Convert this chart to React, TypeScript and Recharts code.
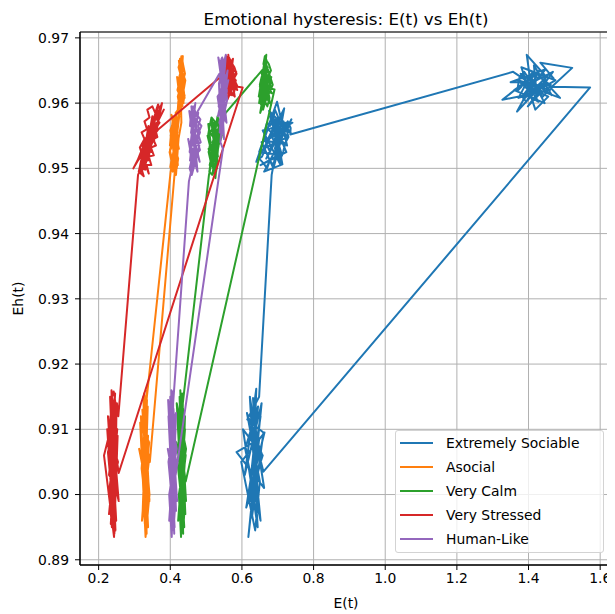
import React from "react";
import {
  LineChart,
  Line,
  XAxis,
  YAxis,
  CartesianGrid,
  Legend,
  ReferenceArea,
} from "recharts";

// E(t) / Eh(t) ticks
const E_TICKS = [0.2, 0.4, 0.6, 0.8, 1.0, 1.2, 1.4, 1.6];
const EH_TICKS = [0.89, 0.9, 0.91, 0.92, 0.93, 0.94, 0.95, 0.96, 0.97];
const E_DOMAIN: [number, number] = [0.148, 1.633];
const EH_DOMAIN: [number, number] = [0.8892, 0.9709];

type Pt = [number, number]; // [E, Eh]

// Extremely Sociable: low -> mid -> high -> back to low
const sociableLow: Pt[] = [
  [0.632, 0.904], [0.652, 0.912], [0.612, 0.898], [0.658, 0.906], [0.603, 0.91],
  [0.644, 0.895], [0.622, 0.915], [0.662, 0.901], [0.585, 0.9065], [0.648, 0.9085],
  [0.618, 0.8935], [0.655, 0.914], [0.608, 0.903], [0.64, 0.9162], [0.628, 0.8965],
  [0.66, 0.9095], [0.615, 0.9115], [0.648, 0.915],
];
const sociableMid: Pt[] = [
  [0.683, 0.949], [0.705, 0.9555], [0.668, 0.9515], [0.722, 0.957], [0.688, 0.95],
  [0.655, 0.954], [0.73, 0.956], [0.678, 0.958], [0.712, 0.952], [0.648, 0.9525],
  [0.698, 0.9602], [0.726, 0.9535], [0.672, 0.956], [0.64, 0.951], [0.715, 0.9585],
  [0.692, 0.953], [0.738, 0.9575], [0.662, 0.9495], [0.713, 0.9506], [0.7, 0.9545],
  [0.733, 0.9565], [0.68, 0.955], [0.741, 0.957], [0.658, 0.9558], [0.708, 0.9505],
  [0.686, 0.9575], [0.728, 0.9548], [0.665, 0.9532], [0.718, 0.9592], [0.694, 0.9518],
  [0.652, 0.9505], [0.724, 0.9525], [0.676, 0.9588], [0.736, 0.9555], [0.69, 0.9562],
  [0.71, 0.9538], [0.67, 0.9542], [0.702, 0.9578],
  [0.7, 0.955], [0.69, 0.954], [0.682, 0.9552], [0.672, 0.9545], [0.664, 0.9528],
  [0.656, 0.9518], [0.648, 0.9515], [0.66, 0.9508], [0.67, 0.95], [0.678, 0.9512],
  [0.688, 0.9505], [0.696, 0.952], [0.706, 0.9512], [0.715, 0.9525], [0.722, 0.954],
  [0.73, 0.9548], [0.724, 0.956], [0.716, 0.9572], [0.708, 0.9565], [0.7, 0.958],
  [0.692, 0.959], [0.686, 0.9572], [0.678, 0.9565], [0.67, 0.957], [0.662, 0.9555],
  [0.668, 0.9538], [0.676, 0.9528], [0.684, 0.9535], [0.694, 0.9548], [0.704, 0.954],
  [0.712, 0.955], [0.72, 0.9565], [0.728, 0.9572], [0.736, 0.9562], [0.735, 0.9552],
];
const sociableHigh: Pt[] = [
  [1.357, 0.9648], [1.42, 0.9625], [1.385, 0.9605], [1.45, 0.964], [1.395, 0.9674],
  [1.41, 0.9615], [1.37, 0.9635], [1.46, 0.962], [1.327, 0.9605], [1.43, 0.965],
  [1.368, 0.9587], [1.44, 0.963], [1.4, 0.9612], [1.475, 0.9635], [1.38, 0.9655],
  [1.419, 0.959], [1.455, 0.961], [1.39, 0.9628], [1.488, 0.9608], [1.425, 0.9645],
  [1.36, 0.962], [1.445, 0.96], [1.405, 0.9642], [1.372, 0.9608], [1.438, 0.9618],
  [1.398, 0.9595], [1.468, 0.9648], [1.412, 0.9632], [1.35, 0.9632], [1.448, 0.9652],
  [1.392, 0.9615], [1.428, 0.9602], [1.378, 0.9645], [1.465, 0.9612], [1.415, 0.9658],
  [1.42, 0.963], [1.405, 0.9622], [1.392, 0.9635], [1.38, 0.9625], [1.368, 0.9618],
  [1.375, 0.964], [1.388, 0.9648], [1.4, 0.9638], [1.412, 0.9648], [1.425, 0.9638],
  [1.438, 0.9645], [1.45, 0.9632], [1.462, 0.9628], [1.452, 0.9618], [1.44, 0.961],
  [1.428, 0.9615], [1.416, 0.9605], [1.404, 0.9612], [1.394, 0.9602], [1.382, 0.961],
  [1.396, 0.962], [1.41, 0.963], [1.424, 0.9622], [1.436, 0.9632], [1.448, 0.964],
  [1.458, 0.9645], [1.47, 0.9638],
  [1.433, 0.9662], [1.522, 0.9654], [1.465, 0.9625], [1.572, 0.9624],
];
const sociableBack: Pt[] = [
  [0.66, 0.9035], [0.626, 0.911], [0.652, 0.896], [0.609, 0.907], [0.645, 0.9135],
  [0.62, 0.9], [0.663, 0.9095], [0.598, 0.905], [0.637, 0.8945], [0.65, 0.902],
  [0.614, 0.9125], [0.657, 0.906], [0.624, 0.899], [0.642, 0.908], [0.631, 0.9148],
  [0.646, 0.8975],
];

// Asocial
const asocialLow: Pt[] = [
  [0.328, 0.901], [0.338, 0.909], [0.321, 0.896], [0.34, 0.905], [0.318, 0.912],
  [0.334, 0.894], [0.325, 0.915], [0.342, 0.899], [0.313, 0.907], [0.331, 0.903],
  [0.337, 0.9135], [0.323, 0.8975], [0.335, 0.916], [0.327, 0.9085], [0.339, 0.902],
  [0.329, 0.912],
];
const asocialMid: Pt[] = [
  [0.401, 0.9495], [0.418, 0.954], [0.404, 0.951], [0.422, 0.957], [0.408, 0.95],
  [0.398, 0.9525], [0.42, 0.9555], [0.405, 0.958], [0.424, 0.953], [0.402, 0.956],
  [0.416, 0.949], [0.423, 0.9545], [0.407, 0.9575], [0.399, 0.9535], [0.419, 0.9565],
  [0.411, 0.9515], [0.425, 0.958], [0.403, 0.9548], [0.414, 0.9572], [0.421, 0.9505],
  [0.406, 0.9538], [0.417, 0.9585], [0.4, 0.9558], [0.413, 0.9528],
  [0.412, 0.955], [0.405, 0.9562], [0.41, 0.9575], [0.403, 0.9582], [0.408, 0.9568],
  [0.401, 0.955], [0.406, 0.954], [0.399, 0.9528], [0.404, 0.9515], [0.4, 0.9502],
  [0.407, 0.9495], [0.412, 0.9508], [0.418, 0.95], [0.422, 0.9515], [0.416, 0.9525],
  [0.421, 0.9538], [0.414, 0.9545], [0.419, 0.9558], [0.413, 0.9565], [0.42, 0.9575],
  [0.415, 0.9585], [0.422, 0.959], [0.424, 0.9578],
];
const asocialHigh: Pt[] = [
  [0.428, 0.96], [0.419, 0.964], [0.436, 0.9615], [0.424, 0.9665], [0.439, 0.9625],
  [0.421, 0.959], [0.431, 0.9672], [0.441, 0.9645], [0.423, 0.961], [0.435, 0.9655],
  [0.426, 0.9585], [0.442, 0.9635], [0.425, 0.966], [0.437, 0.96], [0.42, 0.962],
  [0.433, 0.965], [0.427, 0.9668], [0.44, 0.9608], [0.422, 0.9638], [0.434, 0.9595],
  [0.43, 0.963], [0.425, 0.964], [0.431, 0.9652], [0.426, 0.966], [0.433, 0.9668],
  [0.437, 0.9655], [0.432, 0.9642], [0.438, 0.9632], [0.434, 0.962], [0.44, 0.9612],
  [0.436, 0.96], [0.43, 0.9608], [0.425, 0.9598], [0.421, 0.961], [0.427, 0.9622],
  [0.422, 0.9632], [0.428, 0.9645], [0.423, 0.9655], [0.429, 0.9665], [0.435, 0.9672],
  [0.429, 0.962], [0.431, 0.957], [0.418, 0.953],
];
const asocialBack: Pt[] = [
  [0.343, 0.905], [0.326, 0.91], [0.338, 0.895], [0.32, 0.904], [0.335, 0.9145],
  [0.324, 0.898], [0.341, 0.908], [0.316, 0.911], [0.331, 0.8935], [0.342, 0.9],
  [0.322, 0.913], [0.336, 0.9065], [0.328, 0.8965], [0.333, 0.9105],
  [0.329, 0.908], [0.324, 0.911], [0.33, 0.9135], [0.327, 0.9155], [0.333, 0.914],
  [0.336, 0.9115], [0.332, 0.909], [0.337, 0.906], [0.333, 0.903], [0.338, 0.9],
  [0.334, 0.8975], [0.329, 0.8955], [0.326, 0.8985], [0.33, 0.902],
];

// Very Calm
const calmLow: Pt[] = [
  [0.43, 0.902], [0.441, 0.91], [0.422, 0.896], [0.443, 0.906], [0.419, 0.913],
  [0.436, 0.894], [0.426, 0.915], [0.444, 0.899], [0.417, 0.908], [0.434, 0.9035],
  [0.428, 0.916], [0.442, 0.897], [0.423, 0.911], [0.439, 0.9055], [0.431, 0.8985],
  [0.435, 0.914],
];
const calmMid: Pt[] = [
  [0.508, 0.949], [0.528, 0.954], [0.51, 0.9505], [0.536, 0.9565], [0.515, 0.9525],
  [0.504, 0.955], [0.53, 0.95], [0.514, 0.9575], [0.54, 0.9545], [0.507, 0.953],
  [0.526, 0.9485], [0.538, 0.956], [0.512, 0.9515], [0.532, 0.958], [0.544, 0.955],
  [0.518, 0.954], [0.541, 0.957], [0.506, 0.9568], [0.522, 0.9498], [0.535, 0.9535],
  [0.511, 0.9555], [0.529, 0.9572], [0.517, 0.9508], [0.543, 0.9548], [0.52, 0.9562],
  [0.533, 0.9518],
  [0.525, 0.955], [0.518, 0.956], [0.524, 0.9572], [0.515, 0.9578], [0.51, 0.9565],
  [0.506, 0.9552], [0.512, 0.954], [0.507, 0.9525], [0.513, 0.951], [0.509, 0.9495],
  [0.517, 0.949], [0.522, 0.9505], [0.528, 0.9495], [0.532, 0.951], [0.527, 0.9525],
  [0.534, 0.954], [0.529, 0.9552], [0.537, 0.956], [0.531, 0.9568], [0.539, 0.9575],
  [0.544, 0.9565], [0.54, 0.9552], [0.547, 0.958],
];
const calmHigh: Pt[] = [
  [0.665, 0.9656], [0.652, 0.962], [0.676, 0.9645], [0.648, 0.96], [0.668, 0.9674],
  [0.658, 0.961], [0.68, 0.963], [0.651, 0.9585], [0.672, 0.9655], [0.656, 0.964],
  [0.684, 0.9615], [0.65, 0.9625], [0.678, 0.96], [0.662, 0.966], [0.647, 0.961],
  [0.682, 0.964], [0.66, 0.9595], [0.67, 0.9632], [0.654, 0.9648], [0.675, 0.9605],
  [0.663, 0.9668], [0.686, 0.9628], [0.657, 0.9592],
  [0.668, 0.964], [0.661, 0.965], [0.655, 0.964], [0.65, 0.9628], [0.656, 0.9615],
  [0.652, 0.96], [0.659, 0.959], [0.665, 0.9602], [0.671, 0.9595], [0.677, 0.9608],
  [0.672, 0.962], [0.679, 0.963], [0.674, 0.9642], [0.681, 0.965], [0.675, 0.966],
  [0.669, 0.9665], [0.664, 0.9672], [0.66, 0.966], [0.666, 0.965], [0.673, 0.9635],
  [0.683, 0.9622], [0.691, 0.9621],
];
const calmBack: Pt[] = [
  [0.443, 0.902], [0.425, 0.909], [0.439, 0.895], [0.42, 0.905], [0.441, 0.912],
  [0.43, 0.8935], [0.424, 0.9], [0.444, 0.907], [0.418, 0.914], [0.435, 0.898],
  [0.438, 0.9105], [0.426, 0.903], [0.433, 0.9155], [0.429, 0.8965],
  [0.432, 0.908], [0.427, 0.911], [0.433, 0.9135], [0.429, 0.915], [0.436, 0.913],
  [0.439, 0.91], [0.435, 0.9075], [0.44, 0.9045], [0.436, 0.9015], [0.441, 0.8985],
  [0.437, 0.8955], [0.432, 0.8945], [0.429, 0.8975], [0.433, 0.901],
];

// Very Stressed
const stressedLow: Pt[] = [
  [0.238, 0.902], [0.252, 0.91], [0.229, 0.897], [0.25, 0.905], [0.226, 0.912],
  [0.247, 0.8945], [0.232, 0.915], [0.256, 0.899], [0.23, 0.9055], [0.249, 0.9135],
  [0.215, 0.906], [0.243, 0.8935], [0.253, 0.909], [0.228, 0.9], [0.246, 0.9075],
  [0.234, 0.8955], [0.251, 0.914], [0.255, 0.912],
];
const stressedMid: Pt[] = [
  [0.31, 0.949], [0.35, 0.954], [0.32, 0.9505], [0.349, 0.9575], [0.341, 0.952],
  [0.341, 0.9555], [0.319, 0.9495], [0.339, 0.9565], [0.339, 0.953], [0.362, 0.9585],
  [0.307, 0.951], [0.358, 0.9548], [0.377, 0.96], [0.32, 0.9525], [0.361, 0.956],
  [0.297, 0.95], [0.362, 0.957], [0.332, 0.9535], [0.382, 0.959], [0.313, 0.9515],
  [0.349, 0.9552], [0.35, 0.958], [0.323, 0.9498], [0.33, 0.9545], [0.364, 0.9568],
  [0.325, 0.9528], [0.365, 0.9595], [0.332, 0.9508], [0.321, 0.9538], [0.354, 0.9562],
  [0.334, 0.9518], [0.355, 0.9578], [0.355, 0.9542],
  [0.345, 0.955], [0.352, 0.9565], [0.34, 0.954], [0.347, 0.9525], [0.333, 0.953],
  [0.338, 0.9512], [0.325, 0.9515], [0.33, 0.9498], [0.318, 0.9502], [0.326, 0.9488],
  [0.312, 0.9495], [0.322, 0.952], [0.315, 0.9532], [0.328, 0.9545], [0.32, 0.9555],
  [0.335, 0.956], [0.328, 0.9572], [0.342, 0.9578], [0.336, 0.959], [0.35, 0.9595],
  [0.358, 0.9585], [0.366, 0.9598], [0.372, 0.9588], [0.362, 0.9575], [0.37, 0.957],
  [0.358, 0.956], [0.364, 0.9548], [0.352, 0.9545], [0.36, 0.9535], [0.346, 0.9532],
  [0.354, 0.952], [0.34, 0.9518], [0.347, 0.9505], [0.334, 0.9505], [0.34, 0.9492],
  [0.328, 0.951], [0.336, 0.9525], [0.344, 0.954], [0.356, 0.9552], [0.367, 0.956],
];
const stressedHigh: Pt[] = [
  [0.54, 0.964], [0.565, 0.9662], [0.551, 0.9622], [0.578, 0.9655], [0.556, 0.9672],
  [0.57, 0.9612], [0.546, 0.965], [0.583, 0.9635], [0.56, 0.9606], [0.575, 0.9668],
  [0.549, 0.9642], [0.587, 0.962], [0.566, 0.9652], [0.553, 0.9628], [0.58, 0.961],
  [0.562, 0.9674], [0.574, 0.9625], [0.544, 0.9658], [0.584, 0.9648], [0.558, 0.9616],
  [0.571, 0.966], [0.552, 0.9635], [0.577, 0.9642], [0.563, 0.9612], [0.548, 0.9665],
  [0.581, 0.963], [0.568, 0.9645],
  [0.572, 0.964], [0.565, 0.965], [0.558, 0.964], [0.552, 0.9652], [0.546, 0.9645],
  [0.55, 0.963], [0.557, 0.962], [0.563, 0.9632], [0.569, 0.962], [0.575, 0.9612],
  [0.581, 0.9622], [0.578, 0.9638], [0.585, 0.9645], [0.579, 0.9655], [0.571, 0.9662],
  [0.564, 0.967], [0.559, 0.966], [0.553, 0.9668], [0.561, 0.965], [0.567, 0.964],
  [0.574, 0.965], [0.582, 0.9632], [0.588, 0.9625], [0.602, 0.9624],
];
const stressedBack: Pt[] = [
  [0.256, 0.9033], [0.233, 0.912], [0.249, 0.896], [0.227, 0.908], [0.246, 0.9155],
  [0.231, 0.899], [0.254, 0.905], [0.224, 0.91], [0.244, 0.894], [0.25, 0.9135],
  [0.229, 0.903], [0.252, 0.901], [0.236, 0.916], [0.241, 0.8975], [0.226, 0.9065],
  [0.248, 0.911], [0.235, 0.9045], [0.243, 0.9095],
  [0.238, 0.907], [0.232, 0.91], [0.24, 0.9125], [0.234, 0.9145], [0.242, 0.9158],
  [0.247, 0.914], [0.244, 0.911], [0.249, 0.9085], [0.245, 0.906], [0.25, 0.903],
  [0.246, 0.9], [0.241, 0.897], [0.237, 0.895], [0.233, 0.898], [0.236, 0.9015],
];

// Human-Like
const humanLow: Pt[] = [
  [0.405, 0.902], [0.415, 0.91], [0.397, 0.896], [0.417, 0.905], [0.395, 0.912],
  [0.411, 0.894], [0.4, 0.915], [0.419, 0.899], [0.393, 0.907], [0.409, 0.9035],
  [0.403, 0.916], [0.416, 0.8975], [0.398, 0.911], [0.413, 0.9055], [0.406, 0.8985],
  [0.408, 0.914],
];
const humanMid: Pt[] = [
  [0.452, 0.948], [0.472, 0.953], [0.456, 0.95], [0.48, 0.956], [0.46, 0.9515],
  [0.45, 0.9545], [0.476, 0.9495], [0.462, 0.958], [0.485, 0.954], [0.454, 0.9525],
  [0.47, 0.96], [0.458, 0.9555], [0.482, 0.951], [0.457, 0.957], [0.478, 0.9585],
  [0.464, 0.9535], [0.487, 0.9565], [0.453, 0.9588], [0.474, 0.9505], [0.461, 0.9568],
  [0.483, 0.9528], [0.455, 0.9512], [0.468, 0.9575], [0.479, 0.9548], [0.459, 0.9595],
  [0.466, 0.955], [0.46, 0.954], [0.455, 0.9528], [0.459, 0.9512], [0.454, 0.95],
  [0.46, 0.949], [0.466, 0.9502], [0.471, 0.9515], [0.477, 0.9522], [0.481, 0.9535],
  [0.476, 0.9545], [0.483, 0.9555], [0.478, 0.9565], [0.484, 0.9575], [0.477, 0.958],
  [0.471, 0.957], [0.465, 0.9562], [0.46, 0.9575], [0.455, 0.9565], [0.458, 0.9585],
  [0.464, 0.9595], [0.469, 0.9588], [0.471, 0.9582],
];
const humanHigh: Pt[] = [
  [0.537, 0.9645], [0.552, 0.96], [0.534, 0.967], [0.558, 0.962], [0.533, 0.958],
  [0.56, 0.965], [0.541, 0.956], [0.536, 0.963], [0.555, 0.9674], [0.544, 0.959],
  [0.562, 0.9635], [0.532, 0.961], [0.55, 0.9545], [0.54, 0.9655], [0.557, 0.957],
  [0.535, 0.9595], [0.553, 0.9662], [0.546, 0.9615], [0.538, 0.9555], [0.559, 0.9605],
  [0.543, 0.9668], [0.551, 0.9585],
  [0.545, 0.9625], [0.539, 0.9635], [0.544, 0.9648], [0.538, 0.966], [0.545, 0.967],
  [0.551, 0.966], [0.548, 0.9648], [0.555, 0.964], [0.551, 0.9628], [0.558, 0.9618],
  [0.553, 0.9605], [0.547, 0.9595], [0.542, 0.9582], [0.537, 0.957], [0.543, 0.9562],
  [0.549, 0.9572], [0.554, 0.9585], [0.549, 0.9598], [0.54, 0.954], [0.547, 0.953],
];
const humanBack: Pt[] = [
  [0.415, 0.903], [0.399, 0.909], [0.412, 0.895], [0.395, 0.905], [0.416, 0.9125],
  [0.404, 0.8935], [0.397, 0.9], [0.418, 0.907], [0.394, 0.9145], [0.409, 0.898],
  [0.413, 0.911], [0.401, 0.904], [0.407, 0.9158], [0.402, 0.8965],
  [0.406, 0.908], [0.401, 0.911], [0.407, 0.9135], [0.403, 0.915], [0.409, 0.913],
  [0.412, 0.91], [0.408, 0.9075], [0.413, 0.9045], [0.409, 0.9015], [0.414, 0.8985],
  [0.41, 0.8955], [0.405, 0.8945], [0.402, 0.8975], [0.406, 0.901],
];

const SERIES = [
  {
    name: "Extremely Sociable",
    color: "#1f77b4",
    points: [...sociableLow, ...sociableMid, ...sociableHigh, ...sociableBack],
  },
  {
    name: "Asocial",
    color: "#ff7f0e",
    points: [...asocialLow, ...asocialMid, ...asocialHigh, ...asocialBack],
  },
  {
    name: "Very Calm",
    color: "#2ca02c",
    points: [...calmLow, ...calmMid, ...calmHigh, ...calmBack],
  },
  {
    name: "Very Stressed",
    color: "#d62728",
    points: [...stressedLow, ...stressedMid, ...stressedHigh, ...stressedBack],
  },
  {
    name: "Human-Like",
    color: "#9467bd",
    points: [...humanLow, ...humanMid, ...humanHigh, ...humanBack],
  },
];

const FONT = "'DejaVu Sans', sans-serif";
const tickStyle = { fontSize: 13.9, fill: "#000", fontFamily: FONT };

// matplotlib-like legend box
const renderLegend = () => (
  <div
    style={{
      width: 209,
      height: 123,
      boxSizing: "border-box",
      border: "1px solid #d3d3d3",
      borderRadius: 3,
      background: "rgba(255,255,255,0.8)",
      fontFamily: FONT,
      fontSize: 13.9,
      color: "#000",
    }}
  >
    {SERIES.map((s) => (
      <div
        key={s.name}
        style={{ display: "flex", alignItems: "center", height: 23.9 }}
      >
        <span
          style={{
            display: "inline-block",
            width: 33,
            height: 2,
            background: s.color,
            marginLeft: 4,
            marginRight: 13,
          }}
        />
        <span>{s.name}</span>
      </div>
    ))}
  </div>
);

export default function App() {
  return (
    <div style={{ position: "relative", width: 607, height: 606 }}>
      <div
        style={{
          position: "absolute",
          left: 72,
          width: 532,
          top: 1,
          textAlign: "center",
          fontFamily: FONT,
          fontSize: 16.7,
          lineHeight: "20px",
          color: "#000",
        }}
      >
        Emotional hysteresis: E(t) vs Eh(t)
      </div>
      <LineChart
        width={607}
        height={606}
        margin={{ top: 24, right: 3, left: 0, bottom: 0 }}
      >
        <CartesianGrid stroke="#b0b0b0" strokeWidth={1} />
        <XAxis
          dataKey="x"
          type="number"
          domain={E_DOMAIN}
          ticks={E_TICKS}
          allowDataOverflow
          tickFormatter={(v: number) => v.toFixed(1)}
          tick={tickStyle}
          tickSize={5}
          tickMargin={3}
          height={49}
          stroke="#000"
          label={{
            value: "E(t)",
            position: "insideBottom",
            offset: 6,
            style: { fontSize: 13.9, fill: "#000", fontFamily: FONT },
          }}
        />
        <YAxis
          type="number"
          domain={EH_DOMAIN}
          ticks={EH_TICKS}
          allowDataOverflow
          tickFormatter={(v: number) => v.toFixed(2)}
          tick={tickStyle}
          tickSize={5}
          tickMargin={6}
          width={72}
          stroke="#000"
          label={{
            value: "Eh(t)",
            angle: -90,
            position: "insideLeft",
            offset: 10,
            style: {
              fontSize: 13.9,
              fill: "#000",
              fontFamily: FONT,
              textAnchor: "middle",
            },
          }}
        />
        <Legend
          layout="vertical"
          align="center"
          verticalAlign="middle"
          content={renderLegend}
          wrapperStyle={{ left: 387, top: 422, width: 209, height: 123 }}
        />
        {SERIES.map((s) => (
          <Line
            key={s.name}
            name={s.name}
            data={s.points.map(([x, y]) => ({ x, y }))}
            dataKey="y"
            stroke={s.color}
            strokeWidth={2}
            strokeLinejoin="round"
            dot={false}
            isAnimationActive={false}
          />
        ))}
        {/* frame */}
        <ReferenceArea
          x1={E_DOMAIN[0]}
          x2={E_DOMAIN[1]}
          y1={EH_DOMAIN[0]}
          y2={EH_DOMAIN[1]}
          fill="none"
          stroke="#000"
          strokeWidth={1}
          ifOverflow="visible"
        />
      </LineChart>
    </div>
  );
}
